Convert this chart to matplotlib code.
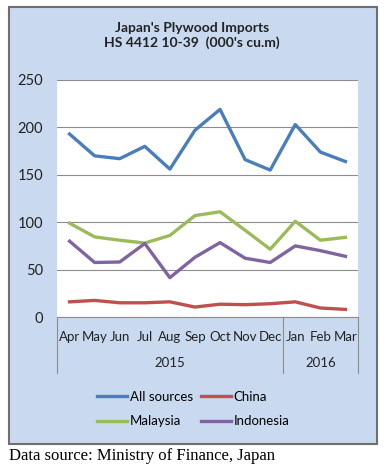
import matplotlib.pyplot as plt
from matplotlib.patches import Rectangle

months = ['Apr', 'May', 'Jun', 'Jul', 'Aug', 'Sep', 'Oct', 'Nov', 'Dec', 'Jan', 'Feb', 'Mar']
all_sources = [193, 170, 167, 180, 156, 197, 219, 166, 155, 203, 174, 164]
china = [16, 17.5, 15, 15, 16, 10.5, 13.5, 13, 14, 16, 9.5, 8]
malaysia = [99, 84.5, 81, 78, 86, 107, 111, 91.5, 71.5, 101, 81, 84]
indonesia = [80, 57.5, 58, 77.5, 41.5, 63, 78.5, 62, 57.5, 75, 70, 64]
years = ['2015', '2016']
year_spans = [(0, 8), (9, 11)]

plt.rcParams['font.family'] = ['Lato', 'DejaVu Sans']
bg = '#c9daf0'

fig = plt.figure(figsize=(3.89, 4.73), dpi=100)
W, H = 389, 473
fig.patches.append(Rectangle((9 / W, 1 - 444 / H), 368 / W, 437 / H, transform=fig.transFigure,
                             facecolor=bg, edgecolor='#6f6f6f', lw=1.5, zorder=-5))

ax = fig.add_axes([57 / W, 1 - 317 / H, 301 / W, 237 / H])
x = list(range(len(months)))
ax.plot(x, all_sources, color='#4a7ebb', lw=2.4, label='All sources')
ax.plot(x, malaysia, color='#9bbb59', lw=2.4, label='Malaysia')
ax.plot(x, china, color='#c0504d', lw=2.4, label='China')
ax.plot(x, indonesia, color='#8064a2', lw=2.4, label='Indonesia')

ax.set_xlim(-0.5, 11.5)
ax.set_ylim(0, 250)
ax.set_yticks([0, 50, 100, 150, 200, 250])
ax.yaxis.grid(True, color='#8c8c8c', lw=0.8)
ax.set_axisbelow(True)
for s in ['left', 'right', 'top']:
    ax.spines[s].set_visible(False)
ax.spines['bottom'].set_color('#8c8c8c')
ax.tick_params(axis='y', length=0, pad=10, labelsize=10.5, colors='#222222')
ax.set_xticks(x)
ax.set_xticklabels(months)
ax.tick_params(axis='x', length=0, pad=10, labelsize=9.5, colors='#222222')

tr = ax.get_xaxis_transform()
for xv in [-0.5, 8.5, 11.5]:
    ax.plot([xv, xv], [0, -56 / 237], color='#8c8c8c', lw=0.8, transform=tr, clip_on=False)
for yr, (a, b) in zip(years, year_spans):
    ax.text((a + b) / 2, -46 / 237, yr, transform=tr, ha='center', va='center',
            fontsize=9.5, color='#222222')

fig.text(192 / W, 1 - 28 / H, "Japan's Plywood Imports", ha='center', va='center',
         fontsize=10, fontweight='bold', color='#222222')
fig.text(192 / W, 1 - 43 / H, "HS 4412 10-39  (000's cu.m)", ha='center', va='center',
         fontsize=10, fontweight='bold', color='#222222')

fig.legend(loc='center', bbox_to_anchor=(193 / W, 1 - 409 / H), ncol=2, frameon=False,
           fontsize=9.5, handlelength=2.3, handletextpad=0.2, columnspacing=0.6,
           labelspacing=0.95)

fig.text(9 / W, 1 - 456 / H, 'Data source: Ministry of Finance, Japan', ha='left', va='center',
         fontsize=12, family='Liberation Serif', color='black')

fig.savefig('out.png', dpi=100)
